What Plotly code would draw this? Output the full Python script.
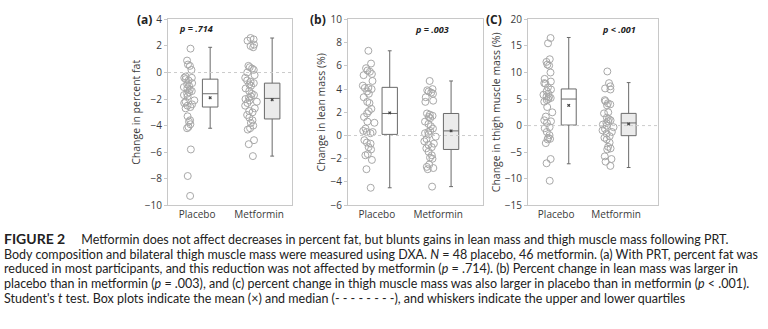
import plotly.graph_objects as go

# ---------------- data ----------------
groups = ["Placebo", "Metformin"]

fat_placebo = [1.8, 0.9, 0.6, 0.5, 0.2, -0.3, -0.4, -0.4, -0.5, -0.6, -0.8, -0.9, -1.0, -1.1,
               -1.2, -1.3, -1.4, -1.5, -1.6, -1.7, -1.8, -2.1, -2.2, -2.3, -2.4, -2.5, -2.6,
               -2.7, -3.3, -3.6, -3.7, -3.9, -4.1, -4.2, -5.8, -7.8, -9.3]
fat_metformin = [2.6, 2.5, 2.4, 2.1, 2.0, 1.9, 0.5, 0.4, 0.3, 0.2, 0.0, -0.2, -0.4, -0.6,
                 -0.7, -0.8, -0.9, -1.0, -1.2, -1.4, -1.6, -1.7, -1.8, -1.9, -2.0, -2.1,
                 -2.2, -2.3, -2.5, -2.7, -2.9, -3.0, -3.2, -3.4, -3.6, -3.8, -4.0, -4.2,
                 -4.3, -5.1, -5.4, -6.3]
lean_placebo = [7.3, 6.2, 5.8, 5.6, 5.5, 5.3, 5.2, 4.7, 4.3, 4.1, 4.1, 4.0, 3.8, 3.6, 3.3,
                2.9, 2.8, 2.3, 2.1, 1.9, 1.6, 1.2, 1.1, 0.6, 0.4, 0.3, 0.3, 0.2, -0.4, -0.6,
                -0.7, -1.0, -1.2, -1.6, -1.7, -2.1, -2.9, -4.5]
lean_metformin = [4.7, 4.0, 3.9, 3.8, 3.7, 3.6, 3.3, 3.0, 2.9, 1.9, 1.8, 1.7, 1.6, 1.5, 1.2,
                  1.0, 0.8, 0.6, 0.4, 0.3, 0.2, 0.1, -0.1, -0.3, -0.5, -0.7, -0.8, -1.0,
                  -1.1, -1.4, -1.7, -1.9, -2.0, -2.5, -2.7, -2.8, -2.9, -4.4]
thigh_placebo = [16.5, 15.5, 12.5, 12.0, 11.5, 11.3, 10.0, 8.8, 8.3, 8.0, 7.9, 7.2, 6.8, 6.5,
                 6.0, 5.8, 5.5, 5.4, 5.2, 5.0, 4.8, 4.5, 3.5, 2.5, 1.7, 1.0, 0.8, 0.5, -0.3,
                 -0.5, -1.2, -1.8, -2.3, -2.5, -2.6, -3.3, -6.3, -7.1, -10.4]
thigh_metformin = [10.2, 8.0, 7.4, 7.0, 6.8, 4.8, 4.6, 4.2, 4.0, 3.8, 2.5, 2.3, 1.5, 1.2, 1.0,
                   0.8, 0.5, 0.2, 0.0, -0.3, -0.6, -0.9, -1.2, -1.5, -2.0, -2.3, -2.6, -3.2,
                   -4.0, -4.3, -4.5, -5.8, -6.3, -6.8, -7.6]

# box statistics: [placebo, metformin]
fat_q1, fat_med, fat_q3 = [-2.6, -3.5], [-1.6, -1.95], [-0.5, -0.8]
fat_lo, fat_hi, fat_mean = [-4.2, -6.3], [1.9, 2.6], [-1.9, -2.05]
lean_q1, lean_med, lean_q3 = [0.1, -1.2], [1.9, 0.4], [4.15, 1.9]
lean_lo, lean_hi, lean_mean = [-4.5, -4.4], [7.3, 4.7], [1.95, 0.4]
thigh_q1, thigh_med, thigh_q3 = [0.1, -1.9], [5.0, 0.5], [6.9, 2.3]
thigh_lo, thigh_hi, thigh_mean = [-7.2, -7.9], [16.6, 8.1], [3.8, 0.3]

y_titles = ["Change in percent fat", "Change in lean mass (%)", "Change in thigh muscle mass (%)"]
y_ticks = [list(range(-10, 5, 2)), list(range(-6, 11, 2)), list(range(-15, 21, 5))]
panel_labels = ["(a)", "(b)", "(C)"]
p_texts = ["p = .714", "p = .003", "p &lt; .001"]

caption_lines = [
    "<span style='font-size:14px'><b>FIGURE 2</b></span>&nbsp;&nbsp;&nbsp;&nbsp;&nbsp;Metformin does not affect decreases in percent fat, but blunts gains in lean mass and thigh muscle mass following PRT.",
    "Body composition and bilateral thigh muscle mass were measured using DXA. <i>N</i> = 48 placebo, 46 metformin. (a) With PRT, percent fat was",
    "reduced in most participants, and this reduction was not affected by metformin (<i>p</i> = .714). (b) Percent change in lean mass was larger in",
    "placebo than in metformin (<i>p</i> = .003), and (c) percent change in thigh muscle mass was also larger in placebo than in metformin (<i>p</i> &lt; .001).",
    "Student's <i>t</i> test. Box plots indicate the mean (×) and median (- - - - - - - -), and whiskers indicate the upper and lower quartiles",
]

# ---------------- layout constants ----------------
W, H = 768, 329
panels_px = [(168, 292), (348, 483), (528, 658)]
x_ranges = [[0, 2.0], [0, 2.2], [0, 2.17]]
plot_top, plot_bot = 13, 207
DOT_OFF, BOX_OFF, TICK_OFF = 0.34, 0.68, 0.47
box_fill = ["#ffffff", "#ebebeb"]
FONT = "Open Sans"

data = [
    (fat_placebo, fat_metformin, fat_q1, fat_med, fat_q3, fat_lo, fat_hi, fat_mean),
    (lean_placebo, lean_metformin, lean_q1, lean_med, lean_q3, lean_lo, lean_hi, lean_mean),
    (thigh_placebo, thigh_metformin, thigh_q1, thigh_med, thigh_q3, thigh_lo, thigh_hi, thigh_mean),
]

fig = go.Figure()
for i, (pl, mf, q1, med, q3, lo, hi, mn) in enumerate(data):
    xa = "x" if i == 0 else f"x{i+1}"
    ya = "y" if i == 0 else f"y{i+1}"
    for g, vals in enumerate([pl, mf]):
        # jittered open circles (box itself hidden)
        fig.add_trace(go.Box(
            x=[g + DOT_OFF] * len(vals), y=vals, xaxis=xa, yaxis=ya,
            boxpoints="all", jitter=1.0, pointpos=0, width=0.21,
            fillcolor="rgba(0,0,0,0)", line=dict(color="rgba(0,0,0,0)", width=0),
            marker=dict(symbol="circle-open", size=7, color="#a8a8a8",
                        line=dict(width=1, color="#a8a8a8")),
            showlegend=False, hoverinfo="y"))
        # box from read statistics
        fig.add_trace(go.Box(
            x=[g + BOX_OFF], q1=[q1[g]], median=[med[g]], q3=[q3[g]],
            lowerfence=[lo[g]], upperfence=[hi[g]], xaxis=xa, yaxis=ya,
            boxpoints=False, width=0.25, whiskerwidth=0.25,
            fillcolor=box_fill[g], line=dict(color="#6a6a6a", width=1),
            showlegend=False))
    fig.add_trace(go.Scatter(
        x=[g + BOX_OFF for g in range(2)], y=mn, xaxis=xa, yaxis=ya, mode="markers",
        marker=dict(symbol="x", size=3, color="#444444"), showlegend=False))

layout = dict(
    width=W, height=H, margin=dict(l=0, r=0, t=0, b=0),
    paper_bgcolor="white", plot_bgcolor="white",
    font=dict(family=FONT, size=10, color="#3a3a3a"),
    showlegend=False, boxmode="overlay",
)
shapes, annotations = [], []
for i in range(3):
    xk = "xaxis" if i == 0 else f"xaxis{i+1}"
    yk = "yaxis" if i == 0 else f"yaxis{i+1}"
    xa = "x" if i == 0 else f"x{i+1}"
    ya = "y" if i == 0 else f"y{i+1}"
    l, r = panels_px[i]
    layout[xk] = dict(
        domain=[l / W, r / W], range=x_ranges[i], anchor=ya,
        tickvals=[TICK_OFF, 1 + TICK_OFF], ticktext=groups,
        showline=True, mirror=True, linecolor="#c8c8c8", linewidth=1,
        showgrid=False, zeroline=False, ticks="", tickfont=dict(size=10, color="#3a3a3a"),
        fixedrange=True)
    yt = y_ticks[i]
    layout[yk] = dict(
        domain=[1 - plot_bot / H, 1 - plot_top / H], range=[yt[0], yt[-1]], anchor=xa,
        tickvals=yt, showline=True, mirror=True, linecolor="#c8c8c8", linewidth=1,
        ticks="outside", ticklen=3, tickcolor="#c8c8c8", showgrid=False, zeroline=False,
        tickfont=dict(size=10, color="#3a3a3a"),
        title=dict(text=y_titles[i], font=dict(size=10.5, color="#3a3a3a"), standoff=2),
        fixedrange=True)
    shapes.append(dict(type="line", xref=f"{xa} domain", yref=ya, x0=0, x1=1, y0=0, y1=0,
                       line=dict(color="#cccccc", width=1, dash="dot")))

# panel letters and p-values
label_px = [(144, 13), (318, 13), (494, 13)]
p_px = [(196, 22), (432, 23), (619, 23)]
for i in range(3):
    annotations.append(dict(xref="paper", yref="paper", x=label_px[i][0] / W,
                            y=1 - label_px[i][1] / H, text=f"<b>{panel_labels[i]}</b>",
                            showarrow=False, xanchor="center", yanchor="middle",
                            font=dict(size=12, color="#222222", family=FONT)))
    annotations.append(dict(xref="paper", yref="paper", x=p_px[i][0] / W,
                            y=1 - p_px[i][1] / H, text=f"<b><i>{p_texts[i]}</i></b>",
                            showarrow=False, xanchor="center", yanchor="middle",
                            font=dict(size=9, color="#222222", family=FONT)))

line_y = [242, 258, 273, 289, 304]
for t, yy in zip(caption_lines, line_y):
    annotations.append(dict(xref="paper", yref="paper", x=2 / W, y=1 - yy / H, text=t,
                            showarrow=False, xanchor="left", yanchor="middle", align="left",
                            font=dict(size=12.5, color="#222222", family="Lato")))

layout["shapes"] = shapes
layout["annotations"] = annotations
fig.update_layout(**layout)
fig.write_html("out.html")
